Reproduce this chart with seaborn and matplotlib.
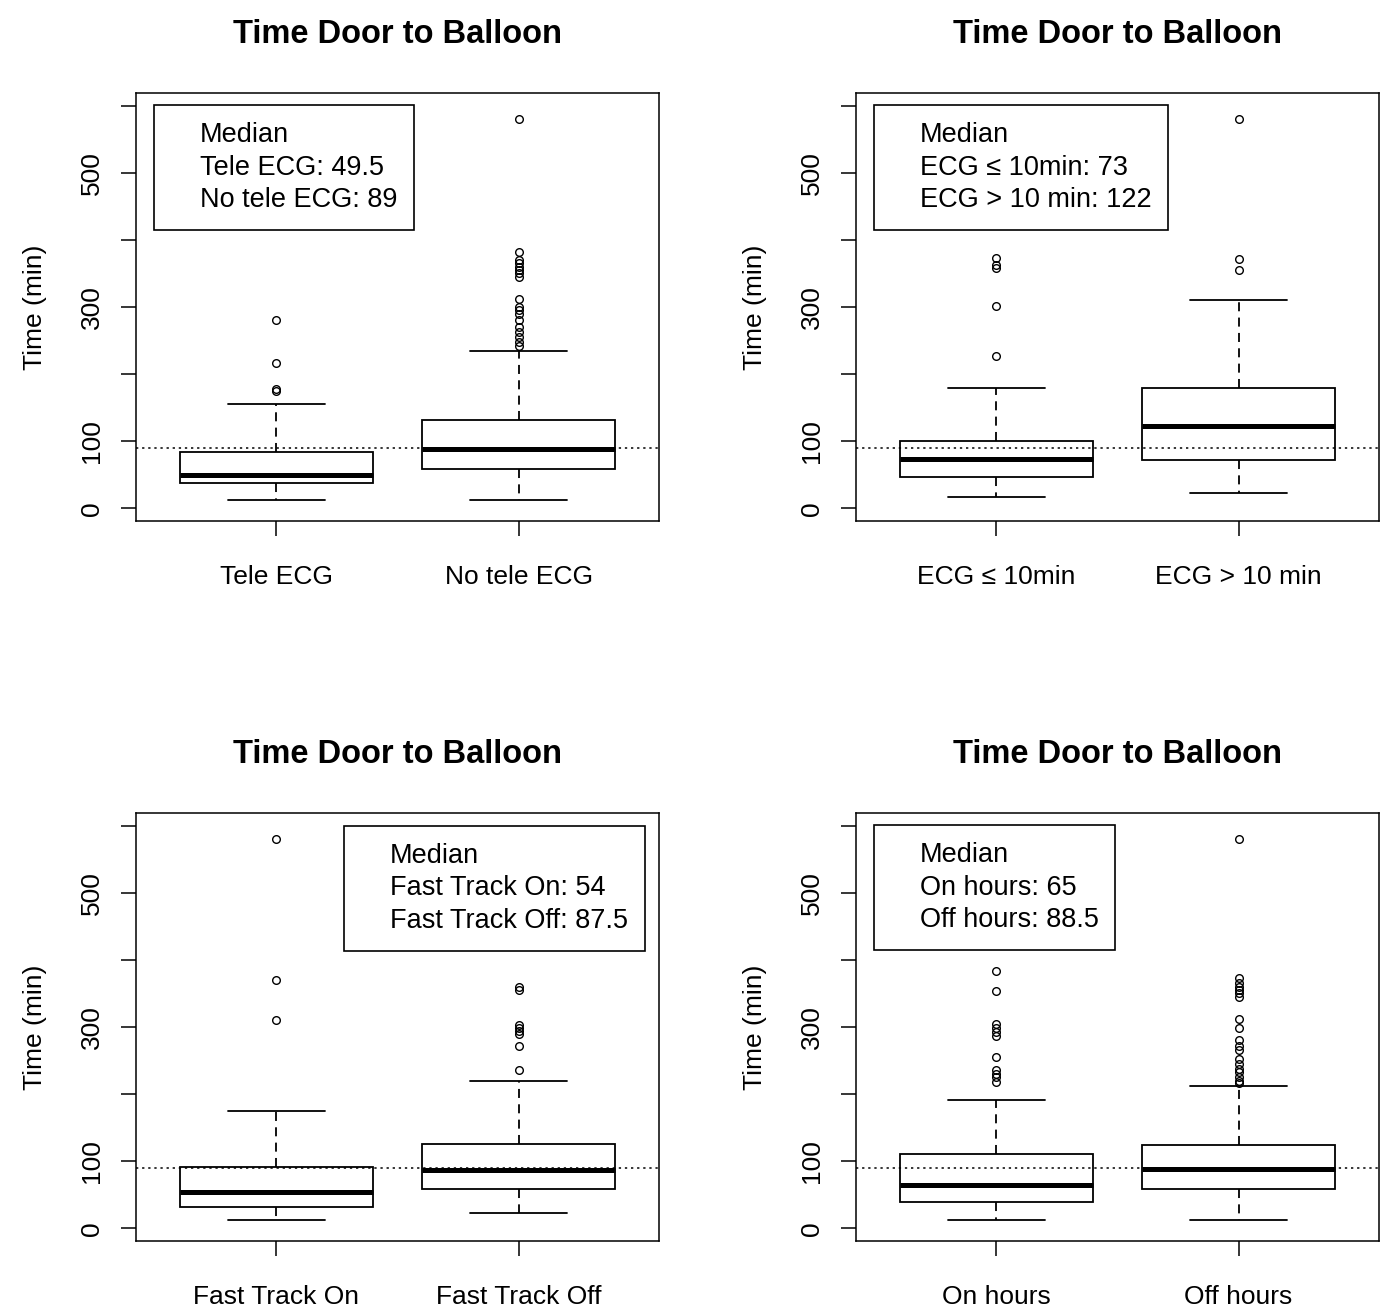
import matplotlib
matplotlib.use("Agg")
import matplotlib.pyplot as plt
from matplotlib.lines import Line2D
import seaborn as sns

# ---------------- data ----------------
titles = ["Time Door to Balloon"] * 4

p1_groups = ["Tele ECG", "No tele ECG"]
p2_groups = ["ECG \u2264 10min", "ECG > 10 min"]
p3_groups = ["Fast Track On", "Fast Track Off"]
p4_groups = ["On hours", "Off hours"]

p1_legend = ["Median", "Tele ECG: 49.5", "No tele ECG: 89"]
p2_legend = ["Median", "ECG \u2264 10min: 73", "ECG > 10 min: 122"]
p3_legend = ["Median", "Fast Track On: 54", "Fast Track Off: 87.5"]
p4_legend = ["Median", "On hours: 65", "Off hours: 88.5"]

# five-number summaries per group: [lower whisker, Q1, median, Q3, upper whisker]
p1_stats = [[13, 37, 49.5, 84, 156], [13, 59, 89, 131, 235]]
p2_stats = [[17, 47, 73, 100.5, 179], [22, 71.6, 122, 179.6, 310]]
p3_stats = [[12, 32, 54, 91.5, 175], [22, 59, 87.5, 126, 219]]
p4_stats = [[12, 39, 65, 110, 191], [12, 59, 88.5, 124, 212]]

p1_fliers = [[175, 178, 217, 280],
             [242, 248, 255, 262, 270, 280, 290, 296, 300, 312,
              345, 350, 355, 360, 365, 370, 382, 580]]
p2_fliers = [[227, 301.5, 358, 363, 373],
             [355, 371, 580]]
p3_fliers = [[310, 370, 580],
             [236, 271, 290, 294, 298, 303, 355, 360]]
p4_fliers = [[218, 225, 230, 236, 255, 286, 292, 298, 305, 354, 383],
             [216, 220, 226, 233, 238, 245, 253, 266, 272, 281, 298, 312,
              345, 350, 355, 360, 365, 373, 580]]

overall_median = 90

y_ticks = [0, 100, 200, 300, 400, 500, 600]
y_ticklabels = ["0", "100", "", "300", "", "500", ""]
y_label = "Time (min)"

panels = [
    (p1_groups, p1_stats, p1_fliers, p1_legend, "upper left"),
    (p2_groups, p2_stats, p2_fliers, p2_legend, "upper left"),
    (p3_groups, p3_stats, p3_fliers, p3_legend, "upper right"),
    (p4_groups, p4_stats, p4_fliers, p4_legend, "upper left"),
]

# ---------------- style ----------------
sns.set_theme(style="white")
plt.rcParams["font.family"] = ["Liberation Sans", "DejaVu Sans"]
plt.rcParams["axes.edgecolor"] = "black"
plt.rcParams["axes.linewidth"] = 1.1
plt.rcParams["text.color"] = "black"
plt.rcParams["axes.labelcolor"] = "black"
plt.rcParams["xtick.color"] = "black"
plt.rcParams["ytick.color"] = "black"

W, H = 1380, 1310
fig = plt.figure(figsize=(W / 100, H / 100), dpi=100)

lefts = [136, 856]
tops = [93, 813]
aw, ah = 523, 428

for i, (groups, stats, fliers, legend_labels, loc) in enumerate(panels):
    r, c = divmod(i, 2)
    ax = fig.add_axes([lefts[c] / W, 1 - (tops[r] + ah) / H, aw / W, ah / H])

    bstats = []
    for g, s, f in zip(groups, stats, fliers):
        bstats.append(dict(label=g, whislo=s[0], q1=s[1], med=s[2], q3=s[3],
                           whishi=s[4], fliers=f))
    ax.bxp(bstats, positions=[1, 2], widths=0.8, patch_artist=True,
           boxprops=dict(facecolor="white", edgecolor="black", linewidth=1.3),
           medianprops=dict(color="black", linewidth=3.6, solid_capstyle="butt"),
           whiskerprops=dict(color="black", linewidth=1.3, linestyle=(0, (5, 3.5))),
           capprops=dict(color="black", linewidth=1.3),
           flierprops=dict(marker="o", markersize=5.5, markerfacecolor="none",
                           markeredgecolor="black", markeredgewidth=1.0))

    ax.axhline(overall_median, color="black", linewidth=1.1,
               linestyle=(0, (1.5, 2.5)), zorder=5)

    ax.set_xlim(0.42, 2.58)
    ax.set_ylim(-19, 619)
    ax.set_xticks([1, 2], groups, fontsize=19)
    ax.set_yticks(y_ticks, y_ticklabels, fontsize=19, rotation=90, va="center")
    ax.tick_params(axis="both", which="major", direction="out", length=11,
                   width=1.1, color="black", labelcolor="black",
                   bottom=True, left=True)
    ax.tick_params(axis="x", pad=21)
    ax.tick_params(axis="y", pad=12)
    ax.set_ylabel(y_label, fontsize=19, labelpad=24, color="black")
    ax.set_title(titles[i], fontsize=23.5, fontweight="bold", pad=36, color="black")
    for sp in ax.spines.values():
        sp.set_visible(True)
        sp.set_color("black")
        sp.set_linewidth(1.1)

    handles = [Line2D([], [], linestyle="none") for _ in legend_labels]
    if loc == "upper left":
        anchor = (0.034, 0.972)
    else:
        anchor = (0.973, 0.970)
    leg = ax.legend(handles, legend_labels, loc=loc, bbox_to_anchor=anchor,
                    borderaxespad=0, fontsize=19.5, frameon=True, fancybox=False,
                    framealpha=1, edgecolor="black", handlelength=0.68,
                    handletextpad=0.4, borderpad=0.62, labelspacing=0.25,
                    labelcolor="black")
    leg.get_frame().set_linewidth(1.2)

fig.savefig("out.png", dpi=100)
